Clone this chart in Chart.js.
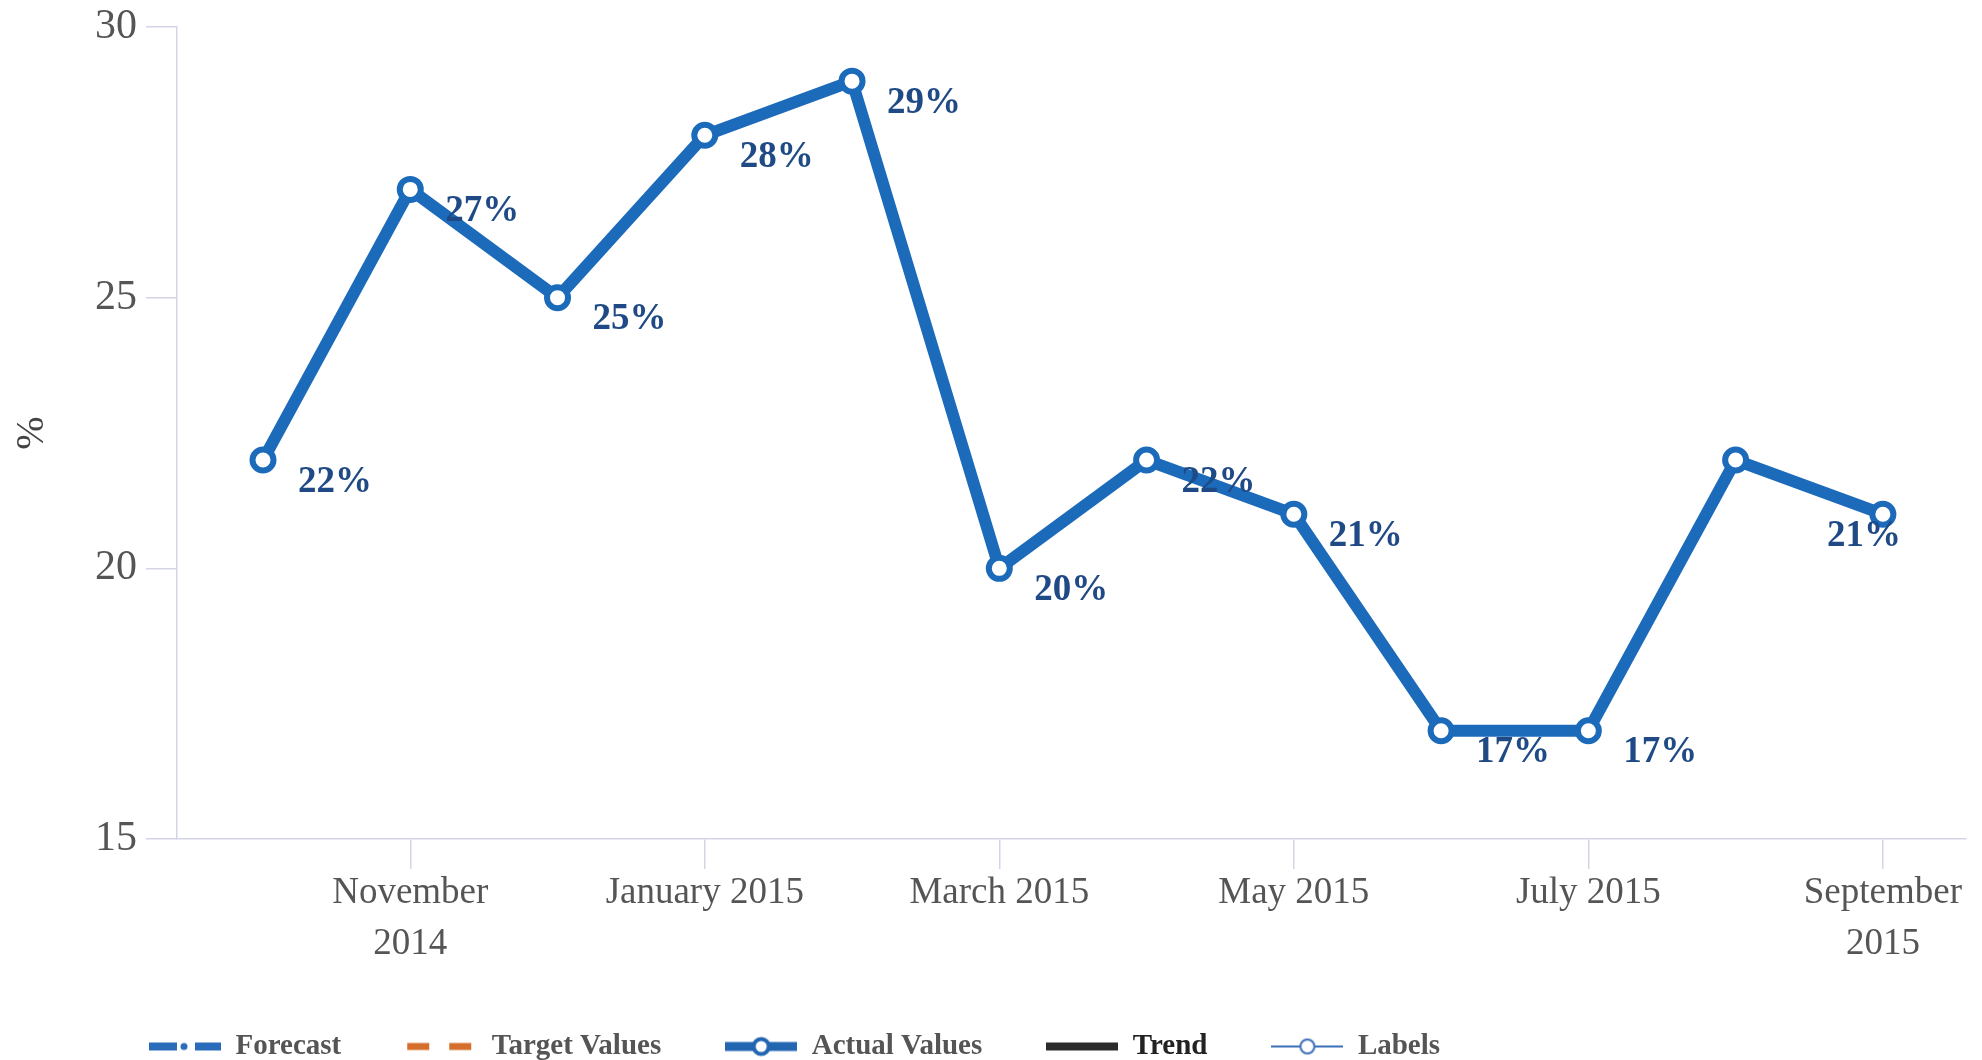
<!DOCTYPE html>
<html>
<head>
<meta charset="utf-8">
<script src="https://cdn.jsdelivr.net/npm/chart.js@4.4.1/dist/chart.umd.min.js"></script>
<style>
html, body { margin: 0; padding: 0; background: #fff; }
#wrap { width: 1982px; height: 1060px; }
</style>
</head>
<body>
<div id="wrap"><canvas id="chart"></canvas></div>
<script>
// monthly values, Oct 2014 .. Sep 2015
const months = ['October 2014', 'November 2014', 'December 2014', 'January 2015', 'February 2015', 'March 2015',
    'April 2015', 'May 2015', 'June 2015', 'July 2015', 'August 2015', 'September 2015'];
const actualValues = [22, 27, 25, 28, 29, 20, 22, 21, 17, 17, 22, 21];
const valueLabels = ['22%', '27%', '25%', '28%', '29%', '20%', '22%', '21%', '17%', '17%', null, '21%'];
const xTickIndex = [1, 3, 5, 7, 9, 11];
const xTickLabels = [['November', '2014'], 'January 2015', 'March 2015', 'May 2015', 'July 2015', ['September', '2015']];
const yTicks = [15, 20, 25, 30];
const legendNames = ['Forecast', 'Target Values', 'Actual Values', 'Trend', 'Labels'];

const blue = '#1c6bbb';
const serif = "'Liberation Serif', 'Times New Roman', serif";
const axisColor = '#d3d5e6';

function makeIcon(kind) {
    const c = document.createElement('canvas');
    c.width = 72;
    c.height = 24;
    const g = c.getContext('2d');
    const cy = 12;
    if (kind === 'Forecast') {
        g.fillStyle = '#2a6cb9';
        g.fillRect(0, cy - 4, 28, 8);
        g.beginPath(); g.arc(35, cy, 3.5, 0, Math.PI * 2); g.fill();
        g.fillRect(46, cy - 4, 26, 8);
    } else if (kind === 'Target Values') {
        g.fillStyle = '#d46e2a';
        g.fillRect(2, cy - 3.5, 22, 7);
        g.fillRect(44, cy - 3.5, 22, 7);
    } else if (kind === 'Actual Values') {
        g.fillStyle = '#2265b0';
        g.fillRect(0, cy - 4.5, 72, 9);
        g.beginPath(); g.arc(36, cy, 7.5, 0, Math.PI * 2);
        g.fillStyle = '#fff'; g.fill();
        g.lineWidth = 4; g.strokeStyle = '#2265b0'; g.stroke();
    } else if (kind === 'Trend') {
        g.fillStyle = '#2b2b2b';
        g.fillRect(0, cy - 4, 72, 8);
    } else {
        g.strokeStyle = '#3b6fb8';
        g.lineWidth = 2;
        g.beginPath(); g.moveTo(0, cy); g.lineTo(72, cy); g.stroke();
        g.beginPath(); g.arc(36, cy, 7, 0, Math.PI * 2);
        g.fillStyle = '#fff'; g.fill(); g.stroke();
    }
    return c;
}
const legendIcons = legendNames.map(makeIcon);

const valueLabelPlugin = {
    id: 'valueLabels',
    afterDatasetsDraw(chart) {
        const meta = chart.getDatasetMeta(2);
        const ctx = chart.ctx;
        ctx.save();
        ctx.font = 'bold 37px ' + serif;
        ctx.fillStyle = '#1f4a85';
        ctx.textBaseline = 'middle';
        ctx.textAlign = 'left';
        meta.data.forEach((pt, i) => {
            const txt = valueLabels[i];
            if (!txt) return;
            const w = ctx.measureText(txt).width;
            let x = pt.x + 35;
            if (x + w > chart.chartArea.right) x = pt.x + 18 - w;
            ctx.fillText(txt, x, pt.y + 22);
        });
        ctx.restore();
    }
};

const legendShift = {
    id: 'legendShift',
    afterLayout(chart) {
        chart.legend.left = 149 - chart.options.plugins.legend.labels.padding;
        chart.legend.top += 11;
    }
};

const ctx = document.getElementById('chart').getContext('2d');
new Chart(ctx, {
    type: 'line',
    data: {
        datasets: legendNames.map(name => ({
            label: name,
            data: name === 'Actual Values' ? actualValues.map((v, i) => ({ x: i, y: v })) : [],
            borderColor: blue,
            borderWidth: 12,
            borderJoinStyle: 'round',
            pointRadius: 10.5,
            pointBorderWidth: 6,
            pointBackgroundColor: '#fff',
            pointBorderColor: blue,
            tension: 0
        }))
    },
    options: {
        responsive: true,
        maintainAspectRatio: false,
        animation: false,
        layout: { padding: { top: 27, right: 4, left: 0, bottom: 0 } },
        plugins: {
            tooltip: { enabled: false },
            legend: {
                position: 'bottom',
                align: 'start',
                labels: {
                    usePointStyle: true,
                    pointStyleWidth: 72,
                    padding: 64,
                    font: { family: serif, size: 29, weight: 'bold' },
                    color: '#555',
                    generateLabels: (chart) => chart.data.datasets.map((ds, i) => ({
                        text: ds.label,
                        pointStyle: legendIcons[i],
                        fontColor: ds.label === 'Trend' ? '#222' : '#555',
                        datasetIndex: i,
                        hidden: false,
                        lineWidth: 0,
                        strokeStyle: 'transparent',
                        fillStyle: 'transparent'
                    }))
                }
            }
        },
        scales: {
            x: {
                type: 'linear',
                min: -0.584,
                max: 11.561,
                afterBuildTicks: (scale) => { scale.ticks = xTickIndex.map(v => ({ value: v })); },
                afterFit: (scale) => {
                    scale.height = 118;
                    scale.paddingLeft = 0;
                    scale.paddingRight = 0;
                },
                grid: { drawOnChartArea: false, drawTicks: true, tickLength: 30, color: axisColor, lineWidth: 1.5 },
                border: { color: axisColor, width: 1.5 },
                ticks: {
                    autoSkip: false,
                    maxRotation: 0,
                    padding: -1,
                    color: '#555',
                    font: { family: serif, size: 37, lineHeight: 1.37 },
                    callback: (v) => xTickLabels[xTickIndex.indexOf(v)]
                }
            },
            y: {
                min: 15,
                max: 30,
                afterBuildTicks: (scale) => { scale.ticks = yTicks.map(v => ({ value: v })); },
                afterFit: (scale) => {
                    scale.width = 177;
                    scale.paddingTop = 0;
                    scale.paddingBottom = 0;
                },
                grid: { drawOnChartArea: false, drawTicks: true, tickLength: 31, color: axisColor, lineWidth: 1.5 },
                border: { color: axisColor, width: 1.5 },
                ticks: {
                    padding: 9,
                    color: '#555',
                    font: { family: serif, size: 42 }
                },
                title: {
                    display: true,
                    text: '%',
                    color: '#444',
                    font: { family: serif, size: 40 },
                    padding: { top: 8, bottom: 0 }
                }
            }
        }
    },
    plugins: [valueLabelPlugin, legendShift]
});
</script>
</body>
</html>
